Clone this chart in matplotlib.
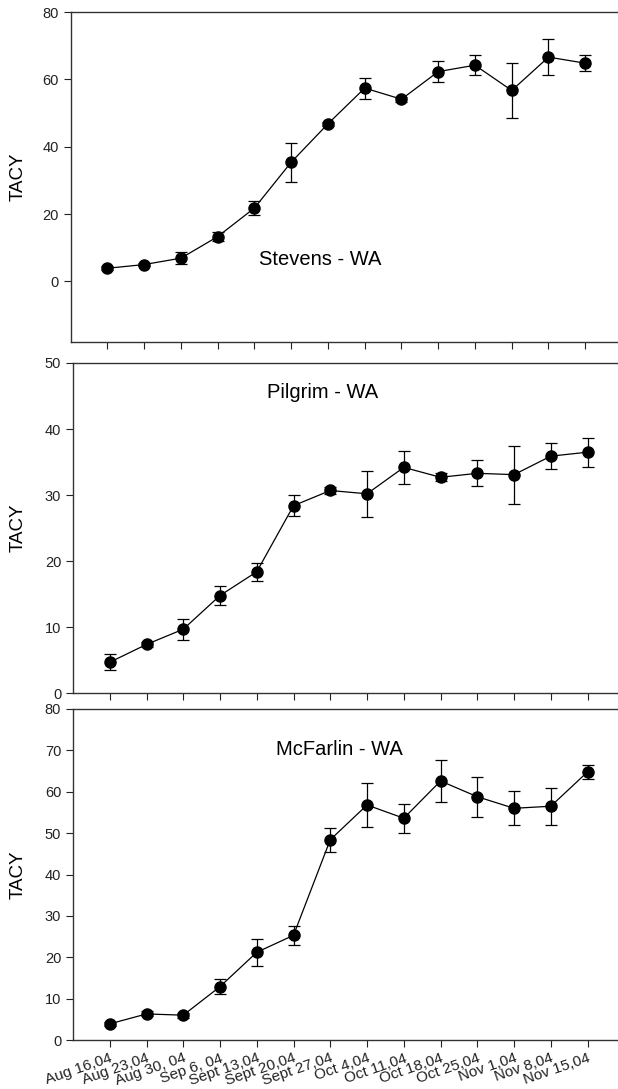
import matplotlib
matplotlib.use("Agg")
import matplotlib.pyplot as plt
import numpy as np

plt.rcParams['font.family'] = ['Liberation Sans', 'DejaVu Sans']

dates = ["Aug 16,04", "Aug 23,04", "Aug 30, 04", "Sep 6, 04", "Sept 13,04",
         "Sept 20,04", "Sept 27,04", "Oct 4,04", "Oct 11,04", "Oct 18,04",
         "Oct 25,04", "Nov 1,04", "Nov 8,04", "Nov 15,04"]

# Stevens
stevens = [3.9, 5.0, 6.9, 13.3, 21.8, 35.4, 46.8, 57.4, 54.1, 62.3, 64.2, 56.7, 66.6, 64.8]
stevens_err = [0.6, 0.5, 1.8, 1.4, 2.1, 5.8, 0.6, 3.1, 0.8, 3.2, 2.9, 8.1, 5.3, 2.3]

# Pilgrim
pilgrim = [4.7, 7.4, 9.7, 14.8, 18.4, 28.4, 30.7, 30.2, 34.2, 32.7, 33.3, 33.1, 35.9, 36.5]
pilgrim_err = [1.2, 0.4, 1.6, 1.45, 1.4, 1.6, 0.5, 3.5, 2.5, 0.6, 1.95, 4.4, 2.0, 2.2]

# McFarlin
mcfarlin = [3.9, 6.3, 6.0, 12.9, 21.2, 25.3, 48.4, 56.8, 53.6, 62.6, 58.8, 56.0, 56.5, 64.8]
mcfarlin_err = [0.4, 0.6, 0.6, 1.9, 3.3, 2.3, 2.95, 5.2, 3.5, 5.1, 4.8, 4.1, 4.5, 1.75]

x = np.arange(len(dates))

fig = plt.figure(figsize=(6.18, 10.89), dpi=100)
W, H = 618.0, 1089.0

def panel(left, top, bottom, vals, errs, ylim, yticks, name, name_xy, labels=False):
    ax = fig.add_axes([left / W, 1 - bottom / H, 551.3 / W, (bottom - top) / H])
    ax.errorbar(x, vals, yerr=errs, fmt='o-', color='black', ms=8, lw=0.9,
                elinewidth=0.9, capsize=4, capthick=0.9)
    ax.set_xlim(-1, 14)
    ax.set_ylim(*ylim)
    ax.set_yticks(yticks)
    ax.set_xticks(x)
    if labels:
        ax.set_xticklabels(dates, rotation=19, ha='right', rotation_mode='anchor',
                           fontsize=11)
    else:
        ax.set_xticklabels([])
    ax.tick_params(direction='out', length=5, width=0.8, colors='#222222')
    ax.tick_params(axis='y', labelsize=10.5)
    ax.tick_params(axis='x', pad=3)
    for s in ax.spines.values():
        s.set_linewidth(1.0)
        s.set_color('#333333')
    ax.set_ylabel("TACY", fontsize=13.5, va='center')
    ax.yaxis.set_label_coords((18 - left) / 551.3, 0.5)
    ax.text(name_xy[0], name_xy[1], name, fontsize=14.5, ha='center', va='center')
    return ax

panel(70.7, 12, 342, stevens, stevens_err, (-18, 80), [0, 20, 40, 60, 80],
      "Stevens - WA", (5.8, 6.4))
panel(73, 363, 693.3, pilgrim, pilgrim_err, (0, 50), [0, 10, 20, 30, 40, 50],
      "Pilgrim - WA", (5.8, 45.6))
panel(73, 709, 1040, mcfarlin, mcfarlin_err, (0, 80), [0, 10, 20, 30, 40, 50, 60, 70, 80],
      "McFarlin - WA", (6.24, 70.1), labels=True)

plt.savefig("out.png", dpi=100)
